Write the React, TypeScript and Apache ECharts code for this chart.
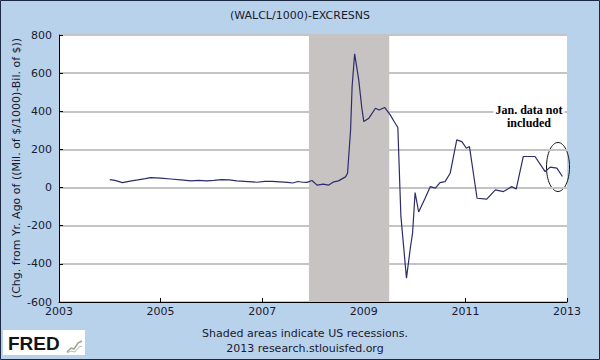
import React, { useEffect, useRef } from "react";
import * as echarts from "echarts";

const title = "(WALCL/1000)-EXCRESNS";
const yAxisName = "(Chg. from Yr. Ago of ((Mil. of $/1000)-Bil. of $))";
const footer1 = "Shaded areas indicate US recessions.";
const footer2 = "2013 research.stlouisfed.org";
const note1 = "Jan. data not";
const note2 = "included";

const recession: [number, number] = [2007.92, 2009.5];

const years: number[] = [
  2004.0, 2004.1, 2004.25, 2004.4, 2004.55, 2004.7, 2004.8, 2005.0, 2005.2, 2005.4,
  2005.6, 2005.75, 2005.9, 2006.05, 2006.2, 2006.35, 2006.5, 2006.65, 2006.8, 2006.9,
  2007.05, 2007.2, 2007.35, 2007.5, 2007.6, 2007.7, 2007.8, 2007.88, 2007.98, 2008.08,
  2008.2, 2008.31, 2008.41, 2008.5, 2008.64, 2008.68, 2008.74, 2008.77, 2008.82, 2008.9,
  2008.96, 2009.0, 2009.1, 2009.23, 2009.3, 2009.41, 2009.52, 2009.6, 2009.67, 2009.73,
  2009.84, 2009.92, 2009.96, 2010.01, 2010.08, 2010.2, 2010.31, 2010.41, 2010.5, 2010.6,
  2010.7, 2010.83, 2010.93, 2011.02, 2011.08, 2011.23, 2011.42, 2011.59, 2011.75, 2011.91,
  2012.0, 2012.14, 2012.37, 2012.57, 2012.67, 2012.8, 2012.91,
];

const values: number[] = [
  42, 38, 26, 34, 40, 47, 52, 50, 45, 40,
  35, 38, 35, 38, 42, 40, 35, 33, 30, 28,
  32, 33, 30, 27, 24, 32, 28, 27, 37, 13,
  18, 13, 30, 35, 56, 75, 303, 530, 701, 565,
  420, 346, 364, 416, 407, 420, 381, 345, 315, -150,
  -475, -309, -239, -26, -128, -60, 5, -3, 26, 31,
  75, 250, 241, 206, 215, -56, -61, -12, -21, 5,
  -8, 163, 163, 84, 107, 102, 58,
];

const yTicks = { min: -600, max: 800, interval: 200 };
const xTicks = { min: 2003, max: 2013, interval: 2 };

export default function App() {
  const ref = useRef<HTMLDivElement>(null);
  useEffect(() => {
    if (!ref.current) return;
    const chart = echarts.init(ref.current, null, { renderer: "svg" });
    const font = "DejaVu Sans";
    chart.setOption({
      animation: false,
      backgroundColor: "#b9d2ec",
      grid: { left: 59, right: 33, top: 35, bottom: 58, show: true, backgroundColor: "#ffffff", borderWidth: 0 },
      title: {
        text: title,
        left: "center",
        top: 5,
        textStyle: { fontFamily: font, fontSize: 11, fontWeight: "normal", color: "#1a1a2e" },
      },
      xAxis: {
        type: "value",
        min: xTicks.min,
        max: xTicks.max,
        interval: xTicks.interval,
        axisLine: { show: true, onZero: false, lineStyle: { color: "#000", width: 1 } },
        axisTick: { show: true, inside: true, length: 4, lineStyle: { color: "#000" } },
        splitLine: { show: false },
        axisLabel: { fontFamily: font, fontSize: 11, color: "#1a1a2e", margin: 4, formatter: (v: number) => String(v) },
      },
      yAxis: {
        type: "value",
        min: yTicks.min,
        max: yTicks.max,
        interval: yTicks.interval,
        axisLine: { show: true, lineStyle: { color: "#000", width: 1 } },
        axisTick: { show: true, inside: true, length: 4, lineStyle: { color: "#000" } },
        splitLine: { show: true, lineStyle: { color: "#c4c4c4", width: 2 } },
        axisLabel: { fontFamily: font, fontSize: 11, color: "#1a1a2e", margin: 7 },
      },
      series: [
        {
          type: "line",
          data: years.map((y, i) => [y, values[i]]),
          showSymbol: false,
          symbol: "none",
          lineStyle: { color: "#2c2c6a", width: 1.2 },
          markArea: {
            silent: true,
            itemStyle: { color: "#c7c3c3" },
            data: [[{ xAxis: recession[0] }, { xAxis: recession[1] }]],
          },
        },
      ],
      graphic: [
        {
          type: "text",
          x: 16,
          y: 168,
          rotation: Math.PI / 2,
          style: { text: yAxisName, font: `11px "${font}"`, fill: "#1a1a2e", align: "center", verticalAlign: "middle" },
        },
        {
          type: "text",
          x: 305,
          y: 333,
          style: { text: footer1, font: `11px "${font}"`, fill: "#1a1a2e", align: "center", verticalAlign: "middle" },
        },
        {
          type: "text",
          x: 305,
          y: 348,
          style: { text: footer2, font: `11px "${font}"`, fill: "#1a1a2e", align: "center", verticalAlign: "middle" },
        },
        {
          type: "text",
          x: 529,
          y: 110,
          z: 10,
          style: {
            text: note1, font: `bold 12px "Liberation Serif"`, fill: "#000", align: "center", verticalAlign: "middle",
            backgroundColor: "#ffffff", padding: [1, 2],
          },
        },
        {
          type: "text",
          x: 529,
          y: 123,
          z: 10,
          style: {
            text: note2, font: `bold 12px "Liberation Serif"`, fill: "#000", align: "center", verticalAlign: "middle",
            backgroundColor: "#ffffff", padding: [1, 2],
          },
        },
        {
          type: "ellipse",
          shape: { cx: 558, cy: 167, rx: 11.5, ry: 24.5 },
          style: { fill: "none", stroke: "#111", lineWidth: 1 },
        },
        {
          type: "rect",
          shape: { x: 3, y: 330, width: 82, height: 25 },
          style: { fill: "#ffffff" },
        },
        {
          type: "text",
          x: 8,
          y: 343,
          style: { text: "FRED", font: `bold 19px "Liberation Sans"`, fill: "#141414", verticalAlign: "middle" },
        },
        {
          type: "polyline",
          shape: { points: [[67, 352], [71, 348], [74, 349], [78, 343], [82, 341]] },
          style: { stroke: "#9aa58e", lineWidth: 1.5, fill: "none" },
        },
        {
          type: "polyline",
          shape: { points: [[67, 353], [71, 351], [75, 352], [79, 347], [82, 346]] },
          style: { stroke: "#b5bca8", lineWidth: 1, fill: "none" },
        },
        {
          type: "rect",
          shape: { x: 0.5, y: 0.5, width: 599, height: 359 },
          style: { fill: "none", stroke: "#1c2a44", lineWidth: 1 },
        },
      ],
    });
    return () => chart.dispose();
  }, []);
  return (
    <div
      ref={ref}
      style={{ position: "fixed", left: 0, top: 0, width: 600, height: 360 }}
    />
  );
}
